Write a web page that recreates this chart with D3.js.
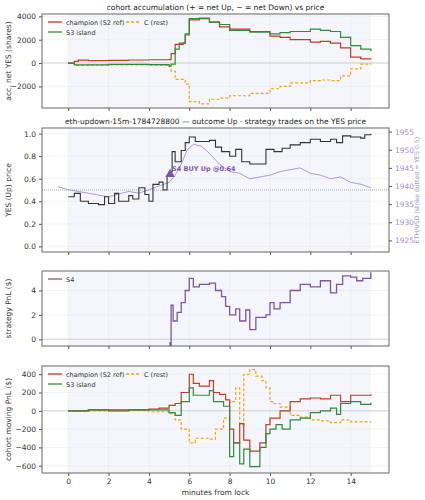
<!DOCTYPE html>
<html><head><meta charset="utf-8">
<script src="https://cdn.jsdelivr.net/npm/d3@7"></script>
<style>body{margin:0;background:#fff}text{font-family:"DejaVu Sans",sans-serif}</style>
</head><body><svg id="c" width="425" height="500"></svg>
<script>
// accumulation (shares)
const accChamp = [[0,0],[0.3,150],[0.5,250],[1,200],[2,230],[3,260],[4,280],[5,300],[5.1,800],[5.3,1600],[5.7,1700],[5.8,2400],[6,3700],[6.5,3800],[7,3500],[7.5,3100],[8,2900],[9,2700],[10,2300],[10.5,2200],[11,2000],[12,1800],[12.5,1850],[13,1700],[13.5,1300],[14,500],[14.5,350],[15,300]];
const accS3 = [[0,0],[0.3,-150],[1,-150],[2,-120],[4,-130],[5,-250],[5.1,-100],[5.3,1200],[5.5,1700],[5.8,2500],[6,3800],[6.5,3850],[7,3500],[7.5,3300],[8,2800],[9,2650],[10,2500],[10.5,2600],[11,2700],[12,2900],[12.5,2800],[13,2700],[13.5,2200],[14,1500],[14.5,1200],[15,1000]];
const accC = [[0,0],[0.3,-200],[1,-180],[2,-150],[4,-200],[5,-300],[5.1,-700],[5.3,-1400],[5.8,-1800],[6,-3300],[6.5,-3500],[7,-3100],[7.5,-3000],[8,-2800],[9,-2600],[10,-2200],[10.5,-2000],[11,-1700],[12,-1500],[12.5,-1450],[13,-1500],[13.5,-1100],[14,-500],[14.5,-100],[15,0]];
// YES price and ETH
const yes = [[0,0.44],[0.3,0.47],[0.6,0.40],[1,0.38],[1.5,0.37],[1.8,0.44],[2,0.38],[2.3,0.47],[2.5,0.40],[3,0.45],[3.2,0.42],[3.5,0.52],[3.8,0.46],[4,0.40],[4.2,0.55],[4.5,0.57],[4.7,0.50],[4.9,0.62],[5.1,0.66],[5.15,0.84],[5.3,0.75],[5.6,0.85],[5.8,0.92],[6,0.97],[6.3,0.93],[6.7,0.93],[7,0.94],[7.3,0.88],[7.6,0.84],[8,0.80],[8.3,0.86],[8.6,0.75],[9,0.73],[9.5,0.73],[9.8,0.86],[10.2,0.84],[10.6,0.87],[11,0.90],[11.5,0.92],[12,0.95],[12.5,0.93],[13,0.95],[13.3,0.92],[13.6,0.98],[14,0.97],[14.5,0.96],[14.7,0.99],[15,1.0]];
const eth = [[-0.5,1939.8],[0,1939],[0.5,1938.5],[1,1938],[1.5,1937.5],[2,1937],[2.5,1937.8],[3,1938.5],[3.5,1938],[4,1939],[4.5,1940],[5,1941],[5.3,1943],[5.6,1946],[5.9,1950],[6.2,1951.5],[6.6,1951],[7,1949],[7.5,1946],[8,1944],[8.5,1943.5],[9,1942],[9.5,1942.5],[10,1943],[10.5,1944],[11,1944.5],[11.5,1945],[12,1943.5],[12.5,1943],[13,1942],[13.5,1942.5],[14,1941],[14.5,1940.5],[15,1939.5]];
const trade = [5.05, 0.64];
// strategy PnL
const s4 = [[5,-0.3],[5.05,-0.5],[5.1,2.8],[5.2,1.5],[5.4,2.2],[5.6,3],[5.8,4],[6,5],[6.2,4.3],[6.5,4.5],[7,4.6],[7.3,4],[7.6,3.5],[7.8,2.7],[8,2],[8.3,2.5],[8.5,1.5],[8.8,2.4],[9,0.8],[9.3,1.8],[9.8,2],[10,3],[10.2,2.5],[10.5,3],[11,4],[11.5,4.5],[12,4.3],[12.5,4.8],[13,3.8],[13.3,4.5],[13.6,5.2],[14,5.1],[14.3,4.8],[14.6,5],[15,5.5]];
// cohort moving PnL
const pnlChamp = [[0,0],[1,10],[2,0],[3,10],[4,20],[4.5,30],[5,60],[5.3,80],[5.6,200],[6,400],[6.2,300],[6.5,270],[7,330],[7.2,200],[7.5,180],[7.8,120],[8,-200],[8.2,-350],[8.5,-140],[8.7,-320],[9,-440],[9.5,-350],[9.8,-150],[10,-80],[10.5,0],[11,100],[11.5,130],[12,140],[12.5,130],[13,170],[13.5,100],[14,170],[14.5,170],[15,180]];
const pnlS3 = [[0,0],[1,10],[2,10],[4,10],[5,-20],[5.3,-50],[5.6,100],[6,250],[6.2,170],[7,220],[7.2,100],[7.7,50],[8,-500],[8.2,-350],[8.5,-580],[8.7,-420],[9,-610],[9.5,-400],[9.8,-250],[10,-200],[10.3,-150],[10.6,-200],[11,-100],[11.5,-80],[12,-20],[12.5,0],[13,30],[13.3,-40],[13.5,80],[14,100],[14.5,70],[15,90]];
const pnlC = [[0,0],[2,5],[4,-10],[5,-30],[5.3,-100],[5.6,-200],[6,-350],[6.3,-300],[7,-310],[7.3,-200],[7.7,-80],[8,100],[8.3,250],[8.5,-150],[8.7,400],[9,450],[9.3,380],[9.6,330],[9.8,250],[10,100],[10.2,80],[10.5,40],[11,-50],[11.5,-70],[12,-100],[12.5,-110],[13,-130],[13.5,-100],[14,-120],[15,-125]];
const xTicks = [0,2,4,6,8,10,12,14];

const RED="#c23b22", GREEN="#2e8b3e", GOLD="#e6a817", PURP="#7d55a8", LPURP="#a58fcc";
const svg = d3.select("#c");
const L=42, R=389;
const x = d3.scaleLinear().domain([-1.3,15.9]).range([L,R]);
const minus = d => d<0 ? "−"+Math.abs(d) : String(d);

function panel(top, bot, dom, ticks, fmt, ylabel, title){
  const y = d3.scaleLinear().domain(dom).range([bot,top]);
  const g = svg.append("g");
  g.append("rect").attr("x",x(0)).attr("y",top).attr("width",x(15)-x(0)).attr("height",bot-top).attr("fill","#f4f6fb");
  g.selectAll(".gx").data(xTicks).join("line").attr("x1",d=>x(d)).attr("x2",d=>x(d)).attr("y1",top).attr("y2",bot).attr("stroke","#e6e6e6").attr("stroke-width",0.5);
  g.selectAll(".gy").data(ticks).join("line").attr("x1",L).attr("x2",R).attr("y1",d=>y(d)).attr("y2",d=>y(d)).attr("stroke","#e6e6e6").attr("stroke-width",0.5);
  const ya = g.append("g").attr("transform",`translate(${L},0)`).call(d3.axisLeft(y).tickValues(ticks).tickFormat(fmt).tickSize(3));
  const xa = g.append("g").attr("transform",`translate(0,${bot})`).call(d3.axisBottom(x).tickValues(xTicks).tickFormat(()=>"").tickSize(3));
  [ya,xa].forEach(a=>{a.select(".domain").remove();a.selectAll("text").attr("font-size",7.5).attr("fill","#333");a.selectAll("line").attr("stroke","#555");});
  g.append("text").attr("transform",`translate(11,${(top+bot)/2}) rotate(-90)`).attr("text-anchor","middle").attr("font-size",7.5).attr("fill","#333").text(ylabel);
  if(title) g.append("text").attr("x",(L+R)/2).attr("y",top-4).attr("text-anchor","middle").attr("font-size",title[1]).attr("fill","#222").text(title[0]);
  return {g,y,top,bot,xa};
}
function frame(p){p.g.append("rect").attr("x",L).attr("y",p.top).attr("width",R-L).attr("height",p.bot-p.top).attr("fill","none").attr("stroke","#666").attr("stroke-width",1);}
function step(p,data,color,dash,w){
  const ln = d3.line().x(d=>x(d[0])).y(d=>p.y(d[1])).curve(d3.curveStepAfter);
  p.g.append("path").datum(data).attr("d",ln).attr("fill","none").attr("stroke",color).attr("stroke-width",w||1.2).attr("stroke-dasharray",dash||null);
}
function zero(p){p.g.append("line").attr("x1",L).attr("x2",R).attr("y1",p.y(0)).attr("y2",p.y(0)).attr("stroke","#ccc").attr("stroke-width",0.8);}
function legend(p,items){
  items.forEach(it=>{
    const lx = L+6+it[3]*78, ly = p.top+8+it[4]*10;
    p.g.append("line").attr("x1",lx).attr("x2",lx+14).attr("y1",ly).attr("y2",ly).attr("stroke",it[1]).attr("stroke-width",1.3).attr("stroke-dasharray",it[2]||null);
    p.g.append("text").attr("x",lx+18).attr("y",ly+2.5).attr("font-size",6.5).attr("fill","#333").text(it[0]);
  });
}
const cohortLeg = [["champion (S2 ref)",RED,null,0,0],["S3 island",GREEN,null,0,1],["C (rest)",GOLD,"3,2",1,0]];

// panel 1
const p1 = panel(14,108,[-3850,4200],[-2000,0,2000,4000],minus,"acc. net YES (shares)",["cohort accumulation (+ = net Up, − = net Down) vs price",7.5]);
zero(p1);
step(p1,accC,GOLD,"3,2"); step(p1,accChamp,RED); step(p1,accS3,GREEN);
legend(p1,cohortLeg); frame(p1);

// panel 2
const p2 = panel(128,252,[-0.05,1.05],[0,0.2,0.4,0.6,0.8,1.0],d3.format(".1f"),"YES (Up) price",["eth-updown-15m-1784728800 — outcome Up · strategy trades on the YES price",7.5]);
const y2r = d3.scaleLinear().domain([1921.8,1956]).range([252,128]);
const ra = p2.g.append("g").attr("transform",`translate(${R},0)`).call(d3.axisRight(y2r).tickValues([1925,1930,1935,1940,1945,1950,1955]).tickFormat(d3.format("d")).tickSize(3));
ra.select(".domain").remove(); ra.selectAll("text").attr("font-size",7.5).attr("fill",LPURP); ra.selectAll("line").attr("stroke","#555");
p2.g.append("text").attr("transform",`translate(419,190) rotate(-90)`).attr("text-anchor","middle").attr("font-size",6.2).attr("fill",LPURP).text("ETH/USD (strike dotted = YES 0.5)");
p2.g.append("line").attr("x1",L).attr("x2",R).attr("y1",p2.y(0.5)).attr("y2",p2.y(0.5)).attr("stroke","#aaa").attr("stroke-dasharray","1,1");
p2.g.append("path").datum(eth).attr("d",d3.line().x(d=>x(d[0])).y(d=>y2r(d[1]))).attr("fill","none").attr("stroke",LPURP).attr("stroke-width",0.9);
step(p2,yes,"#333",null,1.1);
p2.g.append("path").attr("d",d3.symbol(d3.symbolTriangle,40)()).attr("transform",`translate(${x(trade[0])},${p2.y(trade[1])})`).attr("fill",PURP);
p2.g.append("text").attr("x",x(trade[0])+2).attr("y",p2.y(trade[1])-3).attr("font-size",6.5).attr("font-weight","bold").attr("fill",PURP).text("S4 BUY Up @"+trade[1]);
frame(p2);

// panel 3
const p3 = panel(271,346,[-0.55,5.6],[0,2,4],d3.format("d"),"strategy PnL ($)");
zero(p3); step(p3,s4,PURP,null,1.3);
legend(p3,[["S4",PURP,null,0,0]]); frame(p3);

// panel 4
const p4 = panel(366,473,[-680,490],[-600,-400,-200,0,200,400],minus,"cohort moving PnL ($)");
zero(p4);
step(p4,pnlC,GOLD,"3,2"); step(p4,pnlChamp,RED); step(p4,pnlS3,GREEN);
legend(p4,cohortLeg); frame(p4);
p4.xa.selectAll("text").text(d=>d);
svg.append("text").attr("x",(L+R)/2).attr("y",495).attr("text-anchor","middle").attr("font-size",7.5).attr("fill","#333").text("minutes from lock");
</script></body></html>
